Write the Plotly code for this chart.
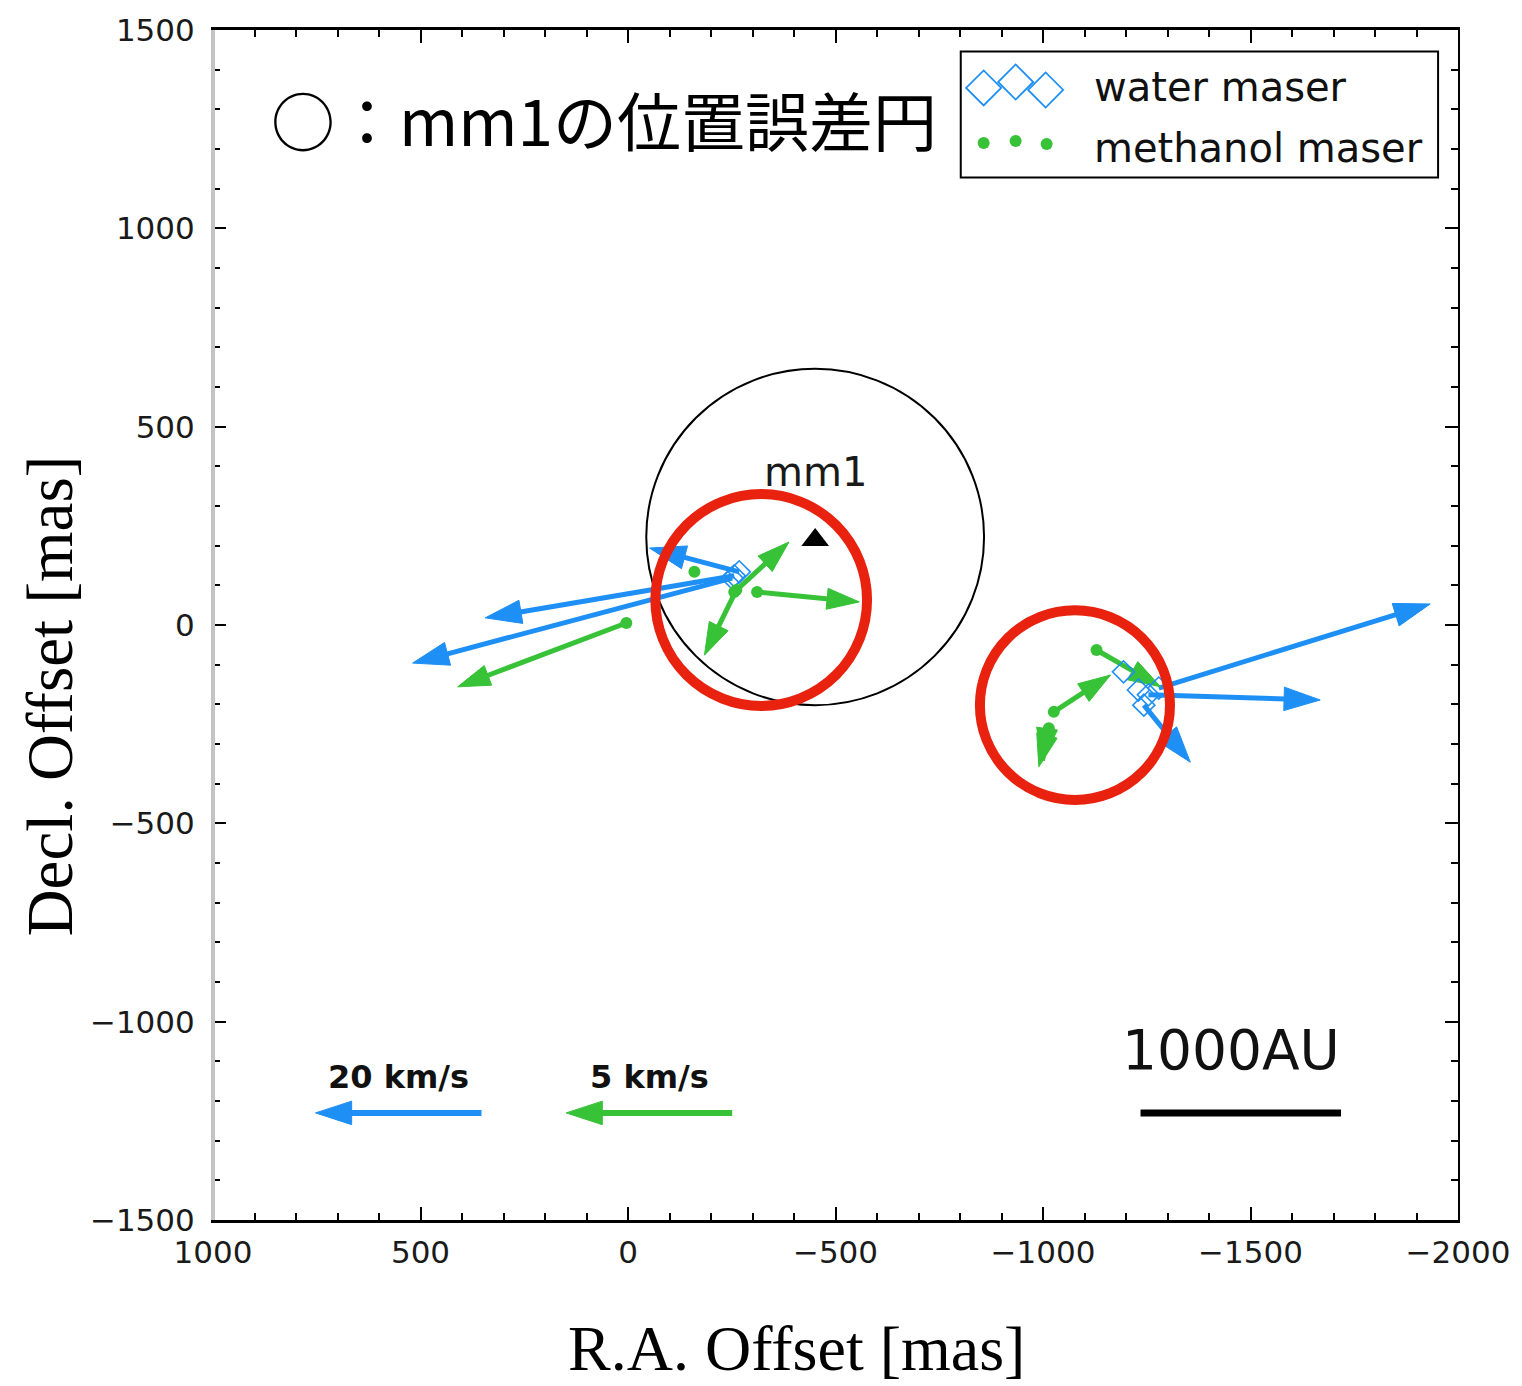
import plotly.graph_objects as go

# ---------------------------------------------------------------------------
# Maser proper motions around mm1 (offsets in mas, velocities in km/s)
# ---------------------------------------------------------------------------
water_ra = [-251, -256, -268, -1279, -1254, -1243, -1194, -1230]
water_dec = [118, 124, 134, -159, -176, -202, -118, -164]
water_vra = [38.5, 30.0, 10.8, -32.7, -20.7, -5.6, 0.0, 0.0]
water_vdec = [-10.7, -5.3, 3.0, 10.6, -0.65, -7.2, 0.0, 0.0]

meth_ra = [-160, 4, -256, -261, -311, -1129, -1026, -1014, -1007]
meth_dec = [134, 5, 83, 88, 83, -63, -219, -260, -282]
meth_vra = [0.0, 5.08, -1.65, 0.96, -3.08, -1.93, -1.71, 0.30, 0.10]
meth_vdec = [0.0, -2.01, 1.58, -2.05, -0.31, -1.16, 1.16, -1.22, -0.75]

# arrow length per km/s (mas)
WATER_SCALE = 20.0
METH_SCALE = 80.0

# mm1 continuum peak and its positional error circle (mas)
mm1_ra, mm1_dec = -451, 214
mm1_err_ra, mm1_err_dec = 407, 424
mm1_circle_ra, mm1_circle_dec = -451, 222

# highlighted maser groups (centre, radius in mas)
group_ra = [-321, -1077]
group_dec = [63, -202]
group_rad_ra = [255, 229]
group_rad_dec = [267, 239]

# velocity key arrows
key_speed = [20, 5]            # km/s
key_ra = [353, -251]           # tail positions
key_dec = [-1230, -1230]
key_labels = ["20 km/s", "5 km/s"]

# linear scale bar
DISTANCE_KPC = 2.07
SCALE_AU = 1000
bar_ra_start, bar_dec = -1235, -1230

x_ticks = [1000, 500, 0, -500, -1000, -1500, -2000]
y_ticks = [1500, 1000, 500, 0, -500, -1000, -1500]

BLUE = "#1e8ff5"
GREEN = "#37c237"
RED = "#e8220f"

HEAD = 38

fig = go.Figure()


def arrow_segments(ra, dec, vra, vdec, scale, head):
    xs, ys, sizes = [], [], []
    for r, d, u, v in zip(ra, dec, vra, vdec):
        if u == 0 and v == 0:
            continue
        xs += [r, r + u * scale, None]
        ys += [d, d + v * scale, None]
        sizes += [0, head, 0]
    return xs, ys, sizes


def add_arrows(xs, ys, sizes, color, width):
    fig.add_trace(go.Scatter(
        x=xs, y=ys, mode="lines+markers",
        line=dict(color=color, width=width),
        marker=dict(symbol="arrow", size=sizes, color=color, opacity=1,
                    angleref="previous", line=dict(width=1, color=color)),
        hoverinfo="skip", showlegend=False))


# water maser arrows
wx, wy, ws = arrow_segments(water_ra, water_dec, water_vra, water_vdec, WATER_SCALE, HEAD)
add_arrows(wx, wy, ws, BLUE, 5)

# methanol maser arrows
mx, my, ms = arrow_segments(meth_ra, meth_dec, meth_vra, meth_vdec, METH_SCALE, HEAD - 4)
add_arrows(mx, my, ms, GREEN, 5)

# maser positions
fig.add_trace(go.Scatter(
    x=water_ra, y=water_dec, mode="markers",
    marker=dict(symbol="diamond-open", size=17, color=BLUE, line=dict(width=1.6, color=BLUE)),
    hoverinfo="skip", showlegend=False))
fig.add_trace(go.Scatter(
    x=meth_ra, y=meth_dec, mode="markers",
    marker=dict(symbol="circle", size=12, color=GREEN),
    hoverinfo="skip", showlegend=False))

# mm1 marker and label
fig.add_trace(go.Scatter(
    x=[mm1_ra], y=[mm1_dec], mode="markers",
    marker=dict(symbol="triangle-up", size=24, color="black"),
    hoverinfo="skip", showlegend=False))
fig.add_annotation(x=mm1_ra, y=386, text="mm1", showarrow=False,
                   xanchor="center", yanchor="middle",
                   font=dict(family="DejaVu Sans", size=40, color="#1a1a1a"))

# velocity key
key_scales = [WATER_SCALE, METH_SCALE]
key_colors = [BLUE, GREEN]
for spd, r, d, lab, sc, col in zip(key_speed, key_ra, key_dec, key_labels, key_scales, key_colors):
    kx, ky, ks = arrow_segments([r], [d], [spd], [0], sc, HEAD)
    add_arrows(kx, ky, ks, col, 6)
    fig.add_annotation(x=r + spd * sc / 2, y=d + 91, text="<b>%s</b>" % lab, showarrow=False,
                       xanchor="center", yanchor="middle",
                       font=dict(family="DejaVu Sans", size=32, color="#111111"))

# 1000 AU scale bar
bar_len = SCALE_AU / DISTANCE_KPC
fig.add_trace(go.Scatter(
    x=[bar_ra_start, bar_ra_start - bar_len], y=[bar_dec, bar_dec], mode="lines",
    line=dict(color="black", width=7), hoverinfo="skip", showlegend=False))
fig.add_annotation(x=-1454, y=-1071, text="%dAU" % SCALE_AU, showarrow=False,
                   xanchor="center", yanchor="middle",
                   font=dict(family="DejaVu Sans", size=55, color="#111111"))

# error circle of mm1
fig.add_shape(type="circle", xref="x", yref="y",
              x0=mm1_circle_ra - mm1_err_ra, x1=mm1_circle_ra + mm1_err_ra,
              y0=mm1_circle_dec - mm1_err_dec, y1=mm1_circle_dec + mm1_err_dec,
              line=dict(color="black", width=2), layer="above")

# highlighted maser groups
for cr, cd, rr, rd in zip(group_ra, group_dec, group_rad_ra, group_rad_dec):
    fig.add_shape(type="circle", xref="x", yref="y",
                  x0=cr - rr, x1=cr + rr, y0=cd - rd, y1=cd + rd,
                  line=dict(color=RED, width=10), layer="above")

# legend box drawn on a unit overlay axis
fig.add_shape(type="rect", xref="paper", yref="paper",
              x0=0.6006, x1=0.984, y0=0.876, y1=0.982,
              line=dict(color="black", width=2), fillcolor="white", layer="below")
fig.add_trace(go.Scatter(
    x=[0.619, 0.6447, 0.6688], y=[0.9513, 0.9563, 0.9496], mode="markers",
    xaxis="x2", yaxis="y2",
    marker=dict(symbol="diamond-open", size=27, color=BLUE, line=dict(width=1.8, color=BLUE)),
    hoverinfo="skip", showlegend=False))
fig.add_trace(go.Scatter(
    x=[0.619, 0.6447, 0.6696], y=[0.905, 0.9067, 0.9042], mode="markers",
    xaxis="x2", yaxis="y2",
    marker=dict(symbol="circle", size=12, color=GREEN),
    hoverinfo="skip", showlegend=False))
fig.add_annotation(xref="paper", yref="paper", x=0.7057, y=0.9521,
                   xanchor="left", yanchor="middle",
                   text="water maser", showarrow=False,
                   font=dict(family="DejaVu Sans", size=40, color="#111111"))
fig.add_annotation(xref="paper", yref="paper", x=0.7057, y=0.9008,
                   xanchor="left", yanchor="middle",
                   text="methanol maser", showarrow=False,
                   font=dict(family="DejaVu Sans", size=40, color="#111111"))

# caption
fig.add_annotation(xref="paper", yref="paper", x=0.0449, y=0.926,
                   xanchor="left", yanchor="middle",
                   text="○：mm1の位置誤差円", showarrow=False,
                   font=dict(family="Noto Sans CJK JP", size=64, color="black"))

# axis titles
fig.add_annotation(xref="paper", yref="paper", x=-0.1307, y=0.4403, textangle=-90,
                   xanchor="center", yanchor="middle",
                   text="Decl. Offset [mas]", showarrow=False,
                   font=dict(family="Liberation Serif", size=65, color="black"))
fig.add_annotation(xref="paper", yref="paper", x=0.469, y=-0.1076,
                   xanchor="center", yanchor="middle",
                   text="R.A. Offset [mas]", showarrow=False,
                   font=dict(family="Liberation Serif", size=64, color="black"))

# grey left spine
fig.add_shape(type="line", xref="paper", yref="paper", x0=0, x1=0, y0=0, y1=1,
              line=dict(color="#c4c4c4", width=4), layer="above")

tickfont = dict(family="DejaVu Sans", size=31, color="#1a1a1a")
fig.update_xaxes(range=[1000, -2000], tickvals=x_ticks, ticks="inside", ticklen=13,
                 tickwidth=2, tickcolor="black", showline=True, linecolor="black",
                 linewidth=3, mirror="allticks", showgrid=False, zeroline=False,
                 minor=dict(dtick=100, ticks="inside", ticklen=7, tickwidth=1.5,
                            tickcolor="black", showgrid=False),
                 tickfont=tickfont, ticklabelstandoff=3)
fig.update_yaxes(range=[-1500, 1500], tickvals=y_ticks, ticks="inside", ticklen=13,
                 tickwidth=2, tickcolor="black", showline=True, linecolor="black",
                 linewidth=2, mirror="allticks", showgrid=False, zeroline=False,
                 minor=dict(dtick=100, ticks="inside", ticklen=7, tickwidth=1.5,
                            tickcolor="black", showgrid=False),
                 tickfont=tickfont, ticklabelstandoff=10)

fig.update_layout(
    width=1522, height=1386,
    margin=dict(l=213, r=62, t=30, b=166),
    paper_bgcolor="white", plot_bgcolor="white",
    showlegend=False,
    xaxis2=dict(overlaying="x", range=[0, 1], visible=False, fixedrange=True),
    yaxis2=dict(overlaying="y", range=[0, 1], visible=False, fixedrange=True),
)

fig.write_html("out.html")
